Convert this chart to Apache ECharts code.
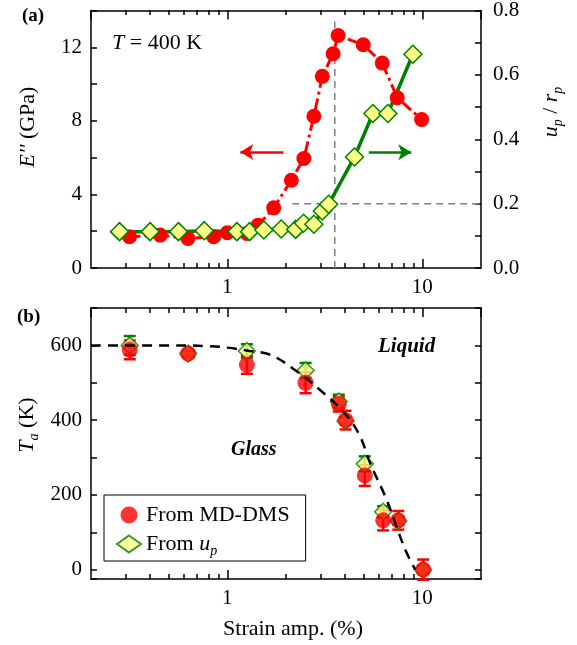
<!DOCTYPE html>
<html>
<head>
<meta charset="utf-8">
<script src="https://cdn.jsdelivr.net/npm/echarts@6/dist/echarts.min.js"></script>
<style>
html, body { margin: 0; padding: 0; background: #fff; }
#plot { width: 577px; height: 645px; }
</style>
</head>
<body>
<div id="plot"></div>
<script>
// panel (a), T = 400 K : loss modulus (left axis) and up/rp (right axis)
const eStrain = [0.315, 0.453, 0.628, 0.851, 1.0, 1.26, 1.44, 1.73, 2.13, 2.47, 2.78, 3.07, 3.49, 3.70, 4.98, 6.23, 7.44, 9.92];
const eLoss   = [1.70, 1.79, 1.61, 1.70, 1.92, 1.88, 2.33, 3.27, 4.77, 5.95, 8.25, 10.42, 11.65, 12.64, 12.14, 11.14, 9.26, 8.07];
const uStrain = [0.280, 0.402, 0.562, 0.762, 1.12, 1.30, 1.54, 1.89, 2.24, 2.46, 2.78, 3.07, 3.31, 4.49, 5.58, 6.66, 8.95];
const uRatio  = [0.113, 0.113, 0.113, 0.116, 0.113, 0.113, 0.118, 0.121, 0.120, 0.139, 0.136, 0.177, 0.198, 0.345, 0.480, 0.480, 0.664];
// grey guide lines and the two arrows
const vGuide = [[3.56, 0], [3.56, 13.4]];
const hGuide = [[2.15, 0.2], [20, 0.2]];
const redArrow = [[1.94, 6.31], [1.166, 6.31]];
const greenArrow = [[5.32, 0.36], [8.78, 0.36]];

// panel (b) : Ta vs strain amplitude
const taStrain = [0.316, 0.63, 1.26, 2.52, 3.73, 4.04, 5.07, 6.30, 7.53, 10.1];
const taMD     = [588, 578, 548, 500, 443, 400, 252, 132, 132, 0];
const taMDErr  = [25, 6, 24, 28, 20, 25, 28, 27, 25, 27];
const taUp     = [600, 578, 585, 533, 450, 398, 283, 155, 130, 0];
const taUpErr  = [25, 8, 18, 20, 18, 10, 20, 15, 10, 10];
const curveStrain = [0.2, 0.5, 0.8, 1.0, 1.3, 1.66, 2.24, 3.0, 3.88, 4.72, 5.42, 6.48, 7.29, 8.2, 9.2];
const curveTa     = [600, 600, 598, 594, 585, 575, 533, 480, 426, 364, 283, 194, 123, 52, 0];

const xMin = 0.2, xMax = 20;
const minorTicks = [0.3, 0.4, 0.5, 0.6, 0.7, 0.8, 0.9, 2, 3, 4, 5, 6, 7, 8, 9];

const font = "'Liberation Serif', 'DejaVu Serif', serif";
const black = '#000';
const axLine = { show: true, onZero: false, lineStyle: { color: black, width: 1.5 } };
const labelStyle = { fontSize: 21, fontFamily: font, color: black };
const rich = {
  i: { fontSize: 22, fontFamily: font, fontStyle: 'italic', color: black },
  n: { fontSize: 22, fontFamily: font, color: black },
  s: { fontSize: 14, fontFamily: font, fontStyle: 'italic', color: black, verticalAlign: 'bottom', lineHeight: 28 }
};

function zip(a, b, c) {
  return a.map((v, k) => c ? [v, b[k], c[k]] : [v, b[k]]);
}

function logX(grid, position, labels) {
  return {
    type: 'log', logBase: 10, gridIndex: grid, position: position, min: xMin, max: xMax,
    axisLine: axLine,
    axisTick: { show: true, inside: true, length: 9, lineStyle: { color: black, width: 1.5 } },
    axisLabel: Object.assign({ show: labels, showMinLabel: false, showMaxLabel: false, margin: 9 }, labelStyle),
    splitLine: { show: false }
  };
}

// extra axes only for the 2..9 minor ticks (placed in log10 units)
function minorX(grid, position) {
  return {
    type: 'value', gridIndex: grid, position: position,
    min: Math.log10(xMin), max: Math.log10(xMax),
    axisLine: { show: false }, axisLabel: { show: false }, splitLine: { show: false },
    axisTick: { show: true, inside: true, length: 5, customValues: minorTicks.map(Math.log10), lineStyle: { color: black, width: 1.5 } }
  };
}

function valY(grid, position, opts) {
  return Object.assign({
    type: 'value', gridIndex: grid, position: position,
    axisLine: axLine,
    axisTick: { show: true, inside: true, length: 6, lineStyle: { color: black, width: 1.5 } },
    splitLine: { show: false }
  }, opts);
}

function errRender(color) {
  return function (params, api) {
    const x = api.value(0), y = api.value(1), e = api.value(2);
    const hi = api.coord([x, y + e]), lo = api.coord([x, y - e]);
    const w = 6;
    const st = { stroke: color, lineWidth: 2.5 };
    return {
      type: 'group', children: [
        { type: 'line', shape: { x1: hi[0], y1: hi[1], x2: lo[0], y2: lo[1] }, style: st },
        { type: 'line', shape: { x1: hi[0] - w, y1: hi[1], x2: hi[0] + w, y2: hi[1] }, style: st },
        { type: 'line', shape: { x1: lo[0] - w, y1: lo[1], x2: lo[0] + w, y2: lo[1] }, style: st }
      ]
    };
  };
}

function label(text, x, y, rot, extra) {
  return {
    type: 'text', x: x, y: y, rotation: rot || 0,
    style: Object.assign({ text: text, rich: rich, fontSize: 22, fontFamily: font, fill: black, align: 'center', verticalAlign: 'middle' }, extra)
  };
}

const diamondStyle = { color: '#ffff88', borderColor: '#008000', borderWidth: 1.5 };
const guideStyle = { color: '#808080', width: 1.5, type: [7, 5] };

const option = {
  animation: false,
  grid: [
    { left: 91, top: 10, width: 390, height: 258 },
    { left: 91, top: 308, width: 390, height: 271 },
    { left: 91, top: 10, width: 390, height: 258 },
    { left: 91, top: 308, width: 390, height: 271 }
  ],
  xAxis: [
    logX(0, 'bottom', true),
    logX(0, 'top', false),
    logX(1, 'bottom', true),
    logX(1, 'top', false),
    minorX(2, 'bottom'),
    minorX(2, 'top'),
    minorX(3, 'bottom'),
    minorX(3, 'top')
  ],
  yAxis: [
    valY(0, 'left', {
      min: 0, max: 14, interval: 2,
      axisLabel: Object.assign({ margin: 9, formatter: v => (v % 4 === 0 && v < 14) ? String(v) : '' }, labelStyle)
    }),
    valY(0, 'right', {
      min: 0, max: 0.8, interval: 0.1,
      axisLabel: Object.assign({ margin: 12, formatter: v => Math.round(v * 10) % 2 === 0 ? v.toFixed(1) : '' }, labelStyle)
    }),
    valY(1, 'left', {
      min: -25, max: 700, splitNumber: 7,
      axisLabel: Object.assign({ margin: 9, formatter: v => (v >= 0 && v % 200 === 0) ? String(v) : '' }, labelStyle)
    }),
    valY(1, 'right', {
      min: -25, max: 700, splitNumber: 7,
      axisLabel: { show: false }
    }),
    { type: 'value', gridIndex: 2, show: false, min: 0, max: 1 },
    { type: 'value', gridIndex: 3, show: false, min: 0, max: 1 }
  ],
  legend: {
    data: ['From MD-DMS', 'From up'],
    orient: 'vertical', left: 104, top: 495,
    padding: [9, 16, 3, 12], itemGap: 7, itemWidth: 24, itemHeight: 17,
    borderColor: black, borderWidth: 1, borderRadius: 0,
    textStyle: { fontSize: 22, fontFamily: font, color: black, rich: rich },
    formatter: n => n === 'From up' ? '{n|From }{i|u}{s|p}' : n
  },
  graphic: [
    { type: 'text', left: 22, top: 7, style: { text: '(a)', fontSize: 19, fontWeight: 'bold', fontFamily: font, fill: black } },
    { type: 'text', left: 17, top: 308, style: { text: '(b)', fontSize: 19, fontWeight: 'bold', fontFamily: font, fill: black } },
    { type: 'text', left: 112, top: 32, style: { text: '{i|T}{n| = 400 K}', rich: rich, fontSize: 22, fontFamily: font, fill: black } },
    { type: 'text', left: 231, top: 440, style: { text: 'Glass', fontSize: 20, fontWeight: 'bold', fontStyle: 'italic', fontFamily: font, fill: black } },
    { type: 'text', left: 378, top: 336, style: { text: 'Liquid', fontSize: 21, fontWeight: 'bold', fontStyle: 'italic', fontFamily: font, fill: black } },
    label("{i|E''}{n| (GPa)}", 28, 127, Math.PI / 2),
    label('{i|u}{s|p}{n| / }{i|r}{s|p}', 551, 112, Math.PI / 2),
    label('{i|T}{s|a}{n| (K)}', 27, 425, Math.PI / 2),
    label('Strain amp. (%)', 293, 629, 0)
  ],
  series: [
    // (a)
    { type: 'line', xAxisIndex: 0, yAxisIndex: 0, data: vGuide, symbol: 'none', lineStyle: guideStyle, silent: true },
    { type: 'line', xAxisIndex: 0, yAxisIndex: 1, data: hGuide, symbol: 'none', lineStyle: guideStyle, silent: true },
    {
      name: 'E', type: 'line', xAxisIndex: 0, yAxisIndex: 0, data: zip(eStrain, eLoss),
      symbol: 'circle', symbolSize: 15,
      itemStyle: { color: '#ff0000', borderWidth: 0 },
      lineStyle: { color: '#ff0000', width: 3, type: [11, 4, 3, 4] },
      markLine: {
        silent: true, symbol: ['none', 'arrow'], symbolSize: [12, 13], label: { show: false },
        lineStyle: { color: '#ff0000', width: 2.5, type: 'solid' },
        data: [[{ coord: redArrow[0] }, { coord: redArrow[1] }]]
      }
    },
    {
      name: 'u', type: 'line', xAxisIndex: 0, yAxisIndex: 1, data: zip(uStrain, uRatio),
      symbol: 'diamond', symbolSize: 18,
      itemStyle: diamondStyle,
      lineStyle: { color: '#008000', width: 3.5 },
      markLine: {
        silent: true, symbol: ['none', 'arrow'], symbolSize: [12, 13], label: { show: false },
        lineStyle: { color: '#008000', width: 2.5, type: 'solid' },
        data: [[{ coord: greenArrow[0] }, { coord: greenArrow[1] }]]
      }
    },
    // (b)
    {
      type: 'line', xAxisIndex: 2, yAxisIndex: 2, data: zip(curveStrain, curveTa),
      symbol: 'none', smooth: 0.4, lineStyle: { color: black, width: 2.5, type: [10, 7] }, silent: true
    },
    { type: 'custom', xAxisIndex: 2, yAxisIndex: 2, data: zip(taStrain, taUp, taUpErr), renderItem: errRender('#008000'), encode: { x: 0, y: 1 } },
    { name: 'From up', type: 'scatter', xAxisIndex: 2, yAxisIndex: 2, data: zip(taStrain, taUp), symbol: 'diamond', symbolSize: 17, itemStyle: diamondStyle },
    { type: 'custom', xAxisIndex: 2, yAxisIndex: 2, data: zip(taStrain, taMD, taMDErr), renderItem: errRender('#ff0000'), encode: { x: 0, y: 1 } },
    { name: 'From MD-DMS', type: 'scatter', xAxisIndex: 2, yAxisIndex: 2, data: zip(taStrain, taMD), symbol: 'circle', symbolSize: 16, itemStyle: { color: '#ff0000' } }
  ]
};

const myChart = echarts.init(document.getElementById('plot'), null, { renderer: 'canvas' });
myChart.setOption(option);
</script>
</body>
</html>
